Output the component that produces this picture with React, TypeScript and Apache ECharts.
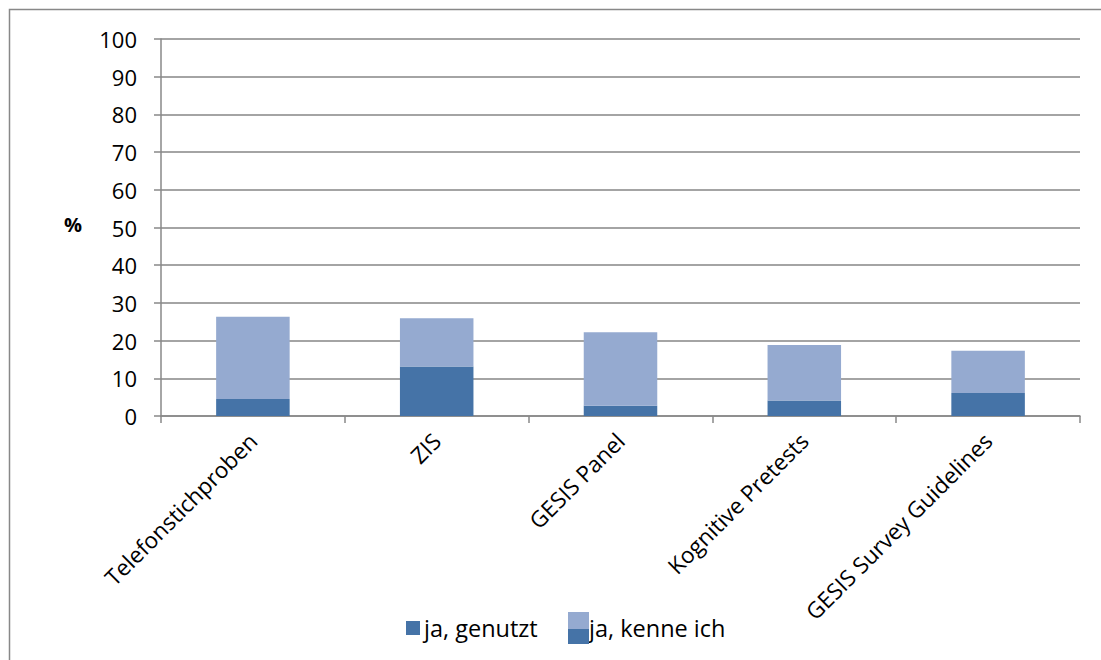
import React, { useEffect, useRef } from "react";
import * as echarts from "echarts";

const categories = ["Telefonstichproben", "ZIS", "GESIS Panel", "Kognitive Pretests", "GESIS Survey Guidelines"];
const genutzt = [4.5, 13.1, 2.7, 4.1, 6.1];
const kenneIch = [21.8, 12.8, 19.5, 14.7, 11.2];
const seriesNames = ["ja, genutzt", "ja, kenne ich"];

const DARK = "#4573A7";
const LIGHT = "#95AAD0";
const FONT = "'Open Sans', 'Noto Sans', sans-serif";

export default function App() {
  const ref = useRef<HTMLDivElement>(null);
  useEffect(() => {
    document.body.style.margin = "0";
    const chart = echarts.init(ref.current!, undefined, { renderer: "svg" });
    chart.setOption({
      animation: false,
      backgroundColor: "#ffffff",
      grid: { left: 161, top: 39, right: 21, bottom: 244, containLabel: false },
      legend: [
        {
          data: [seriesNames[0]],
          left: 401,
          top: 611,
          itemWidth: 14,
          itemHeight: 14,
          icon: "rect",
          textStyle: { fontFamily: FONT, fontSize: 23.5, color: "#000", padding: [0, 0, 0, -1] },
        },
        {
          data: [seriesNames[1]],
          left: 563,
          top: 607,
          itemWidth: 21,
          itemHeight: 32,
          icon: "rect",
          textStyle: { fontFamily: FONT, fontSize: 23.5, color: "#000", padding: [0, 0, 0, -5] },
        },
      ],
      xAxis: {
        type: "category",
        data: categories,
        axisLine: { lineStyle: { color: "#888", width: 1.5 } },
        axisTick: { show: true, length: 7, inside: false, lineStyle: { color: "#888", width: 1.5 } },
        axisLabel: {
          rotate: 45,
          interval: 0,
          margin: 21,
          fontFamily: FONT,
          fontSize: 22.5,
          color: "#000",
        },
      },
      yAxis: {
        type: "value",
        min: 0,
        max: 100,
        interval: 10,
        axisLine: { show: true, lineStyle: { color: "#888", width: 1.5 } },
        axisTick: { show: true, length: 7, lineStyle: { color: "#888", width: 1.5 } },
        splitLine: { show: true, lineStyle: { color: "#868686", width: 1.5 } },
        axisLabel: { margin: 24, fontFamily: FONT, fontSize: 22, color: "#000" },
      },
      series: [
        {
          name: seriesNames[0],
          type: "bar",
          stack: "total",
          data: genutzt,
          barWidth: "40%",
          itemStyle: { color: DARK },
        },
        {
          name: seriesNames[1],
          type: "bar",
          stack: "total",
          data: kenneIch,
          barWidth: "40%",
          itemStyle: { color: LIGHT },
        },
      ],
      graphic: [
        {
          type: "rect",
          shape: { x: 9.5, y: 9.5, width: 1200, height: 800 },
          style: { fill: "none", stroke: "#888", lineWidth: 1.5 },
          silent: true,
          z: 100,
        },
        {
          type: "rect",
          shape: { x: 568, y: 629, width: 21, height: 15 },
          style: { fill: DARK },
          silent: true,
          z: 100,
        },
        {
          type: "text",
          left: 64,
          top: 214,
          style: { text: "%", fontFamily: FONT, fontSize: 20, fontWeight: "bold", fill: "#000" },
        },
      ],
    });
    return () => chart.dispose();
  }, []);
  return <div ref={ref} style={{ position: "fixed", left: 0, top: 0, width: 1101, height: 660 }} />;
}
